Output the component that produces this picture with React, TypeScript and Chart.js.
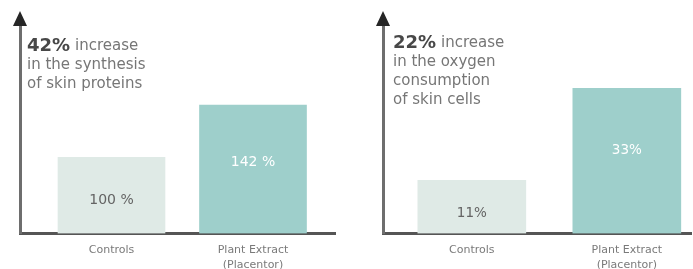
import React, { useEffect, useRef } from "react";
import { Chart, registerables } from "chart.js";

Chart.register(...registerables);

// ---- data ----
const categories: (string | string[])[] = ["Controls", ["Plant Extract", "(Placentor)"]];
const categoryPositions = [1, 2];

const proteinValues = [100, 142];
const proteinValueLabels = ["100 %", "142 %"];
const proteinHeadline = "42%";
const proteinNote = ["increase", "in the synthesis", "of skin proteins"];

const oxygenValues = [11, 33];
const oxygenValueLabels = ["11%", "33%"];
const oxygenHeadline = "22%";
const oxygenNote = ["increase", "in the oxygen", "consumption", "of skin cells"];

// ---- styles ----
const barColors = ["#dfeae6", "#9ecfcb"];
const valueLabelColors = ["#646464", "#ffffff"];
const FONT = "DejaVu Sans";

const decorPlugin = {
  id: "decor",
  afterDraw(chart: any, _args: any, opts: any) {
    const ctx = chart.ctx as CanvasRenderingContext2D;
    const area = chart.chartArea;
    // value labels inside bars
    const meta = chart.getDatasetMeta(0);
    meta.data.forEach((el: any, i: number) => {
      const { x, y, base } = el.getProps(["x", "y", "base"], true);
      ctx.save();
      ctx.font = `${opts.valueFontSize}px "${FONT}"`;
      ctx.fillStyle = valueLabelColors[i];
      ctx.textAlign = "center";
      ctx.textBaseline = "middle";
      ctx.fillText(opts.valueLabels[i], x, y + (base - y) * opts.labelFractions[i]);
      ctx.restore();
    });
    // arrow head on y axis
    ctx.save();
    ctx.fillStyle = "#262626";
    ctx.beginPath();
    ctx.moveTo(area.left, area.top - 14);
    ctx.lineTo(area.left - 7, area.top + 1);
    ctx.lineTo(area.left + 7, area.top + 1);
    ctx.closePath();
    ctx.fill();
    ctx.restore();
    // note text
    ctx.save();
    ctx.textBaseline = "middle";
    ctx.textAlign = "left";
    const nx = area.left + opts.noteX;
    const ny = area.top + opts.noteY;
    ctx.font = `bold 18px "${FONT}"`;
    ctx.fillStyle = "#484848";
    ctx.fillText(opts.headline, nx, ny);
    const hw = ctx.measureText(opts.headline).width;
    ctx.font = `15px "${FONT}"`;
    ctx.fillStyle = "#767676";
    opts.note.forEach((line: string, i: number) => {
      if (i === 0) ctx.fillText(line, nx + hw + 5, ny);
      else ctx.fillText(line, nx, ny + i * 19);
    });
    ctx.restore();
  },
};

type PanelProps = {
  values: number[];
  valueLabels: string[];
  headline: string;
  note: string[];
  yMin: number;
  yMax: number;
  xMin: number;
  xMax: number;
  barThickness: number;
  padLeft: number;
  padRight: number;
  noteX: number;
  noteY: number;
  labelFractions: number[];
  valueFontSize: number;
  width: number;
};

function Panel(p: PanelProps) {
  const ref = useRef<HTMLCanvasElement>(null);
  useEffect(() => {
    if (!ref.current) return;
    const chart = new Chart(ref.current, {
      type: "bar",
      data: {
        datasets: [
          {
            data: p.values.map((v, i) => ({ x: categoryPositions[i], y: v })),
            backgroundColor: barColors,
            borderWidth: 0,
            barThickness: p.barThickness,
            base: p.yMin,
          } as any,
        ],
      },
      options: {
        responsive: false,
        animation: false,
        layout: { padding: { left: p.padLeft, right: p.padRight, top: 25, bottom: 0 } },
        plugins: {
          legend: { display: false },
          tooltip: { enabled: false },
          decor: {
            valueLabels: p.valueLabels,
            headline: p.headline,
            note: p.note,
            noteX: p.noteX,
            noteY: p.noteY,
            labelFractions: p.labelFractions,
            valueFontSize: p.valueFontSize,
          },
        } as any,
        scales: {
          x: {
            type: "linear",
            min: p.xMin,
            max: p.xMax,
            offset: false,
            grid: { display: false, drawTicks: false },
            border: { display: true, color: "#555555", width: 3 },
            afterBuildTicks: (axis: any) => {
              axis.ticks = categoryPositions.map((v) => ({ value: v }));
            },
            ticks: {
              autoSkip: false,
              maxRotation: 0,
              padding: 10,
              color: "#7a7a7a",
              font: { family: FONT, size: 11, lineHeight: 1.3 },
              callback: (v: any) => {
                const idx = categoryPositions.indexOf(Number(v));
                return idx >= 0 ? categories[idx] : "";
              },
            },
          } as any,
          y: {
            min: p.yMin,
            max: p.yMax,
            grid: { display: false, drawTicks: false },
            ticks: { display: false },
            border: { display: true, color: "#6e6e6e", width: 3 },
          },
        },
      },
      plugins: [decorPlugin],
    });
    return () => chart.destroy();
  }, []);
  return <canvas ref={ref} width={p.width} height={282} />;
}

export default function App() {
  return (
    <div
      style={{
        position: "fixed",
        left: 0,
        top: 0,
        width: 693,
        height: 269,
        overflow: "hidden",
        background: "#ffffff",
      }}
    >
      <div style={{ position: "absolute", left: 0, top: 0 }}>
        <Panel
          values={proteinValues}
          valueLabels={proteinValueLabels}
          headline={proteinHeadline}
          note={proteinNote}
          yMin={38.6}
          yMax={206.6}
          xMin={0.3534}
          xMax={2.5795}
          barThickness={107}
          padLeft={20}
          padRight={10}
          noteX={7}
          noteY={21}
          labelFractions={[0.57, 0.45]}
          valueFontSize={14}
          width={345}
        />
      </div>
      <div style={{ position: "absolute", left: 345, top: 0 }}>
        <Panel
          values={oxygenValues}
          valueLabels={oxygenValueLabels}
          headline={oxygenHeadline}
          note={oxygenNote}
          yMin={-1.67}
          yMax={48.1}
          xMin={0.427}
          xMax={2.414}
          barThickness={108}
          padLeft={38}
          padRight={2}
          noteX={10}
          noteY={18}
          labelFractions={[0.62, 0.43]}
          valueFontSize={13.5}
          width={348}
        />
      </div>
    </div>
  );
}
